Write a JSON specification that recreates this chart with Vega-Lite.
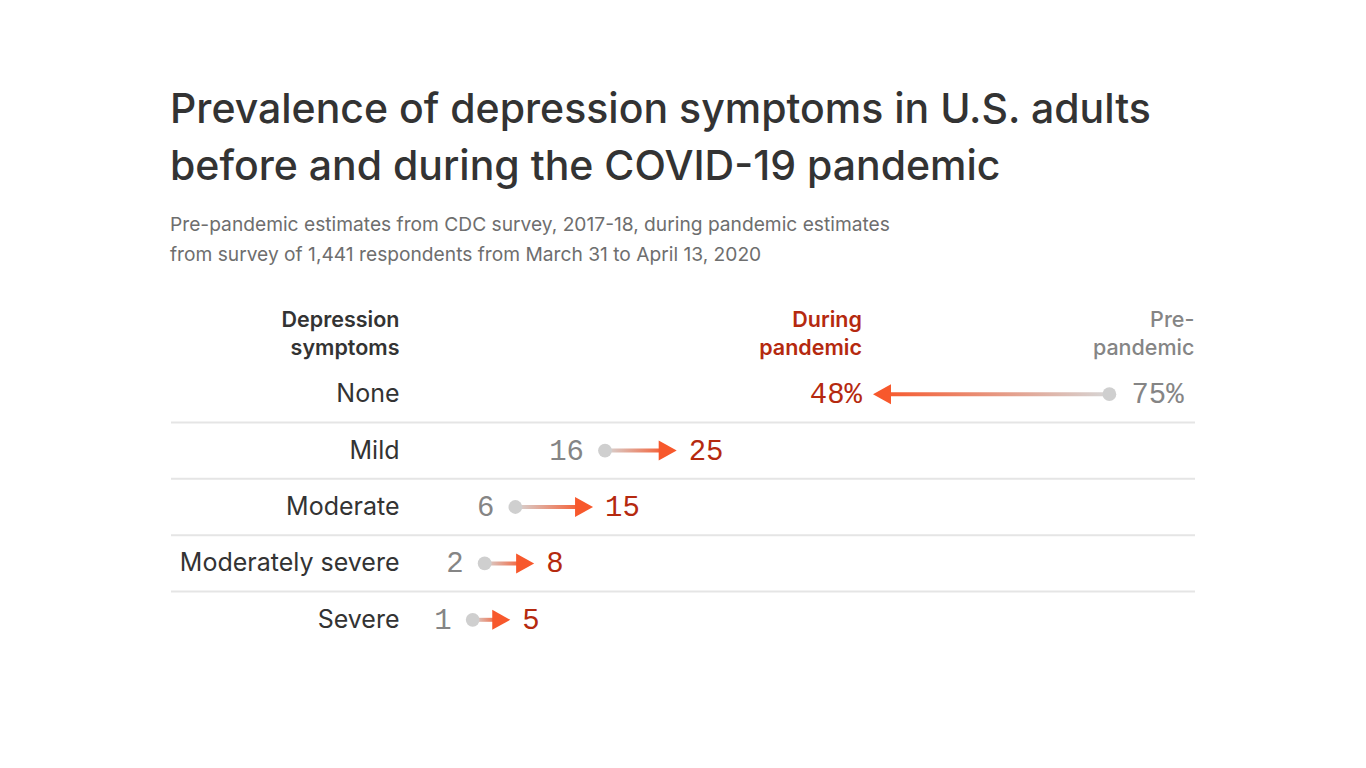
{
  "$schema": "https://vega.github.io/schema/vega-lite/v6.json",
  "width": 1024,
  "height": 338.4,
  "autosize": {"type": "none"},
  "padding": {"left": 171, "top": 309.6, "right": 171, "bottom": 120},
  "background": "white",
  "title": {
    "text": ["Prevalence of depression symptoms in U.S. adults", "before and during the COVID-19 pandemic"],
    "subtitle": ["Pre-pandemic estimates from CDC survey, 2017-18, during pandemic estimates", "from survey of 1,441 respondents from March 31 to April 13, 2020"],
    "anchor": "start",
    "font": "Inter",
    "fontSize": 41,
    "fontWeight": 500,
    "color": "#333333",
    "lineHeight": 57,
    "subtitleFont": "Inter",
    "subtitleFontSize": 19.2,
    "subtitleColor": "#6e6e6e",
    "subtitleLineHeight": 30,
    "subtitlePadding": 27,
    "offset": 43
  },
  "config": {"view": {"stroke": null}, "font": "Inter"},
  "data": {
    "values": [
      {"cat": "None", "pre": 75.3, "during": 47.6},
      {"cat": "Mild", "pre": 16.2, "during": 24.6},
      {"cat": "Moderate", "pre": 5.7, "during": 14.8},
      {"cat": "Moderately severe", "pre": 2.1, "during": 7.9},
      {"cat": "Severe", "pre": 0.7, "during": 5.1}
    ]
  },
  "transform": [
    {"calculate": "format(datum.pre, '.0f') + (datum.cat === 'None' ? '%' : '')", "as": "preLbl"},
    {"calculate": "format(datum.during, '.0f') + (datum.cat === 'None' ? '%' : '')", "as": "durLbl"}
  ],
  "layer": [
    {
      "transform": [{"filter": "datum.cat !== 'Severe'"}],
      "mark": {"type": "rule", "color": "#e5e5e5", "strokeWidth": 2},
      "encoding": {
        "y": {
          "field": "cat", "type": "nominal", "bandPosition": 1, "title": null,
          "scale": {"domain": ["header", "None", "Mild", "Moderate", "Moderately severe", "Severe"], "paddingInner": 0, "paddingOuter": 0},
          "axis": {
            "domain": false, "ticks": false, "tickSize": 0, "grid": false,
            "labelPadding": -228, "labelAlign": "right", "labelLimit": 500,
            "labelFont": "Inter", "labelColor": "#333333",
            "labelFontSize": {"condition": {"test": "datum.value === 'header'", "value": 21.5}, "value": 25},
            "labelFontWeight": {"condition": {"test": "datum.value === 'header'", "value": 600}, "value": 400},
            "labelOffset": {"condition": {"test": "datum.value === 'header'", "value": -17}, "value": 0},
            "labelLineHeight": 28,
            "labelExpr": "datum.value === 'header' ? ['Depression', 'symptoms'] : datum.value"
          }
        }
      }
    },
    {
      "transform": [{"filter": "datum.during > datum.pre"}],
      "mark": {"type": "bar", "height": 4, "x2Offset": -10,
        "color": {"gradient": "linear", "x1": 0, "x2": 1, "y1": 0, "y2": 0,
          "stops": [{"offset": 0, "color": "#d6d6d6"}, {"offset": 1, "color": "#f7582c"}]}},
      "encoding": {
        "x": {"field": "pre", "type": "quantitative", "scale": {"domain": [-34.65, 85.33], "nice": false, "zero": false}, "axis": null},
        "x2": {"field": "during"},
        "y": {"field": "cat", "type": "nominal", "title": null}
      }
    },
    {
      "transform": [{"filter": "datum.during < datum.pre"}],
      "mark": {"type": "bar", "height": 4, "xOffset": 10,
        "color": {"gradient": "linear", "x1": 0, "x2": 1, "y1": 0, "y2": 0,
          "stops": [{"offset": 0, "color": "#f7582c"}, {"offset": 1, "color": "#d6d6d6"}]}},
      "encoding": {
        "x": {"field": "during", "type": "quantitative"},
        "x2": {"field": "pre"},
        "y": {"field": "cat", "type": "nominal", "title": null}
      }
    },
    {
      "mark": {"type": "point", "filled": true, "shape": "circle", "size": 190, "color": "#cfcfcf", "opacity": 1, "strokeWidth": 0},
      "encoding": {
        "x": {"field": "pre", "type": "quantitative"},
        "y": {"field": "cat", "type": "nominal", "title": null}
      }
    },
    {
      "transform": [{"filter": "datum.during > datum.pre"}],
      "mark": {"type": "point", "filled": true, "shape": "M-1.8,-1L0,0L-1.8,1Z", "size": 400, "color": "#f7582c", "opacity": 1, "strokeWidth": 0},
      "encoding": {
        "x": {"field": "during", "type": "quantitative"},
        "y": {"field": "cat", "type": "nominal", "title": null}
      }
    },
    {
      "transform": [{"filter": "datum.during < datum.pre"}],
      "mark": {"type": "point", "filled": true, "shape": "M1.8,-1L0,0L1.8,1Z", "size": 400, "color": "#f7582c", "opacity": 1, "strokeWidth": 0},
      "encoding": {
        "x": {"field": "during", "type": "quantitative"},
        "y": {"field": "cat", "type": "nominal", "title": null}
      }
    },
    {
      "transform": [{"filter": "datum.during > datum.pre"}],
      "mark": {"type": "text", "align": "right", "baseline": "middle", "dx": -21, "font": "Liberation Mono", "fontSize": 29, "color": "#858585"},
      "encoding": {
        "x": {"field": "pre", "type": "quantitative"},
        "y": {"field": "cat", "type": "nominal", "title": null},
        "text": {"field": "preLbl"}
      }
    },
    {
      "transform": [{"filter": "datum.during > datum.pre"}],
      "mark": {"type": "text", "align": "left", "baseline": "middle", "dx": 12, "font": "Liberation Mono", "fontSize": 29, "color": "#b5290f"},
      "encoding": {
        "x": {"field": "during", "type": "quantitative"},
        "y": {"field": "cat", "type": "nominal", "title": null},
        "text": {"field": "durLbl"}
      }
    },
    {
      "transform": [{"filter": "datum.during < datum.pre"}],
      "mark": {"type": "text", "align": "left", "baseline": "middle", "dx": 22, "font": "Liberation Mono", "fontSize": 29, "color": "#858585"},
      "encoding": {
        "x": {"field": "pre", "type": "quantitative"},
        "y": {"field": "cat", "type": "nominal", "title": null},
        "text": {"field": "preLbl"}
      }
    },
    {
      "transform": [{"filter": "datum.during < datum.pre"}],
      "mark": {"type": "text", "align": "right", "baseline": "middle", "dx": -11, "font": "Liberation Mono", "fontSize": 29, "color": "#b5290f"},
      "encoding": {
        "x": {"field": "during", "type": "quantitative"},
        "y": {"field": "cat", "type": "nominal", "title": null},
        "text": {"field": "durLbl"}
      }
    },
    {
      "transform": [{"filter": "datum.cat === 'None'"}],
      "mark": {"type": "text", "align": "right", "baseline": "middle", "dx": -11, "dy": -17, "font": "Inter", "fontSize": 21.5, "fontWeight": 600, "lineHeight": 28, "color": "#b5290f", "text": ["During", "pandemic"]},
      "encoding": {
        "x": {"field": "during", "type": "quantitative"},
        "y": {"datum": "header", "type": "nominal"}
      }
    },
    {
      "transform": [{"filter": "datum.cat === 'None'"}],
      "mark": {"type": "text", "align": "right", "baseline": "middle", "dx": 85, "dy": -17, "font": "Inter", "fontSize": 21.5, "fontWeight": 500, "lineHeight": 28, "color": "#858585", "text": ["Pre-", "pandemic"]},
      "encoding": {
        "x": {"field": "pre", "type": "quantitative"},
        "y": {"datum": "header", "type": "nominal"}
      }
    }
  ]
}
